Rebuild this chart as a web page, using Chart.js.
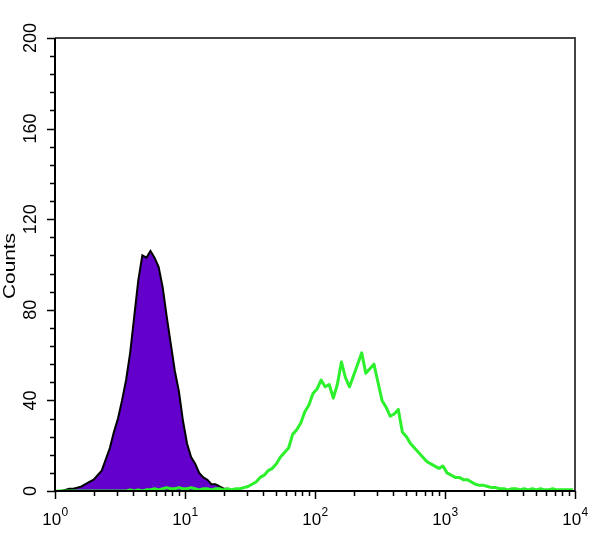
<!DOCTYPE html>
<html>
<head>
<meta charset="utf-8">
<script src="https://cdn.jsdelivr.net/npm/chart.js@4"></script>
<style>
  body { margin: 0; background: #fff; }
  #wrap { width: 600px; height: 533px; }
</style>
</head>
<body>
<div id="wrap"><canvas id="chartFlow" width="600" height="533"></canvas></div>
<script>
// histogram channels: 32 bins per decade, 10^0 .. 10^4
const BINS_PER_DECADE = 32;

// isotype control (purple, filled)
const controlCounts = [
  0, 0, 0.5, 1, 1, 1.5, 2, 3, 4, 5, 7, 9, 14, 19, 26, 32,
  40, 49, 61, 77, 93, 104, 103, 106, 103, 99, 90, 77, 65, 53, 44, 31,
  21, 15, 12, 8, 6, 5, 3, 3, 2, 1, 1, 0.5, 0, 0, 0, 0,
  0, 0, 0, 0, 0, 0, 0, 0, 0, 0, 0, 0, 0, 0, 0, 0,
  0, 0, 0, 0, 0, 0, 0, 0, 0, 0, 0, 0, 0, 0, 0, 0,
  0, 0, 0, 0, 0, 0, 0, 0, 0, 0, 0, 0, 0, 0, 0, 0,
  0, 0, 0, 0, 0, 0, 0, 0, 0, 0, 0, 0, 0, 0, 0, 0,
  0, 0, 0, 0, 0, 0, 0, 0, 0, 0, 0, 0, 0, 0, 0, 0
];

// stained sample (green line)
const sampleCounts = [
  0, 0, 0, 0, 0, 0, 0, 0, 0, 0, 0, 0, 0, 0, 0, 0,
  0, 0, 0.5, 0, 0.5, 0, 0.5, 0.5, 1, 0.5, 1, 1.5, 1, 1, 1.5, 1,
  1, 1.5, 1, 0.5, 1, 1, 0.5, 1, 1, 0.5, 1, 0.5, 1, 1, 1.5, 2,
  3, 4, 6, 7, 9, 10, 12, 15, 17, 19, 25, 27, 30, 35, 38, 43,
  45, 49, 46, 47, 41, 47, 57, 50, 46, 51, 56, 61, 52, 54, 56, 48,
  40, 37, 33, 34, 36, 26, 24, 21, 19, 17, 15, 13, 12, 11, 10, 11,
  8, 7, 6, 6, 5, 5, 4, 3, 2.5, 2.5, 2, 1.5, 1.5, 1, 1, 0.5,
  1, 1, 0.5, 1, 0.5, 1, 0.5, 1, 0.5, 0.5, 1, 0.5, 0.5, 0.5, 0.5, 0.5
];

const yTickLabels = [0, 40, 80, 120, 160, 200];
const xDecades = [0, 1, 2, 3, 4];
const yLabel = "Counts";

const FONT = '"Liberation Sans", Arial, sans-serif';

document.addEventListener("DOMContentLoaded", () => {
  renderHistograma();
});

function toPoints(counts) {
  return counts.map((c, i) => ({ x: 10 ** ((i + 0.5) / BINS_PER_DECADE), y: c }));
}

/* ===========================================
        EJES, TICKS Y ETIQUETAS (plugin)
=========================================== */
const ejesPlugin = {
  id: "ejesFlow",
  afterDatasetsDraw(chart) {
    const { ctx, chartArea: a, scales: { x, y } } = chart;
    ctx.save();

    // marco superior / derecho
    ctx.strokeStyle = "#444";
    ctx.lineWidth = 2;
    ctx.beginPath();
    ctx.moveTo(a.left, a.top);
    ctx.lineTo(a.right, a.top);
    ctx.lineTo(a.right, a.bottom);
    ctx.stroke();

    // ejes principales
    ctx.strokeStyle = "#000";
    ctx.lineWidth = 2;
    ctx.beginPath();
    ctx.moveTo(a.left, a.top);
    ctx.lineTo(a.left, a.bottom);
    ctx.lineTo(a.right, a.bottom);
    ctx.stroke();

    // ticks eje Y (menores cada 8)
    ctx.lineWidth = 1.5;
    ctx.beginPath();
    for (let v = 0; v <= 200; v += 8) {
      const py = Math.round(y.getPixelForValue(v)) + 0.5;
      const len = v % 40 === 0 ? 8 : 5;
      ctx.moveTo(a.left - len, py);
      ctx.lineTo(a.left, py);
    }
    // ticks eje X (log)
    xDecades.forEach(d => {
      const mults = d === 4 ? [1] : [1, 2, 3, 4, 5, 6, 7, 8, 9];
      mults.forEach(m => {
        const px = Math.round(x.getPixelForValue(m * 10 ** d)) + 0.5;
        const len = m === 1 ? 8 : 5;
        ctx.moveTo(px, a.bottom);
        ctx.lineTo(px, a.bottom + len);
      });
    });
    ctx.stroke();

    // etiquetas Y (rotadas)
    ctx.fillStyle = "#000";
    ctx.font = `18px ${FONT}`;
    ctx.textAlign = "center";
    ctx.textBaseline = "middle";
    yTickLabels.forEach(v => {
      ctx.save();
      ctx.translate(31, y.getPixelForValue(v));
      ctx.rotate(-Math.PI / 2);
      ctx.fillText(String(v), 0, 0);
      ctx.restore();
    });

    // titulo Y
    ctx.save();
    ctx.font = `17px ${FONT}`;
    ctx.translate(10, 266);
    ctx.rotate(-Math.PI / 2);
    const w = ctx.measureText(yLabel).width;
    ctx.scale(66 / w, 1);
    ctx.fillText(yLabel, 0, 0);
    ctx.restore();

    // etiquetas X: 10^d
    ctx.textAlign = "left";
    ctx.textBaseline = "alphabetic";
    xDecades.forEach(d => {
      const px = x.getPixelForValue(10 ** d);
      ctx.font = `17px ${FONT}`;
      const wBase = ctx.measureText("10").width;
      ctx.font = `12px ${FONT}`;
      const wExp = ctx.measureText(String(d)).width;
      const x0 = px - (wBase + wExp) / 2;
      ctx.font = `17px ${FONT}`;
      ctx.fillText("10", x0, 525);
      ctx.font = `12px ${FONT}`;
      ctx.fillText(String(d), x0 + wBase + 0.5, 516);
    });

    ctx.restore();
  }
};

/* ===========================================
              HISTOGRAMA (Chart.js)
=========================================== */
function renderHistograma() {
  const ctx = document.getElementById("chartFlow");

  new Chart(ctx, {
    type: "line",
    data: {
      datasets: [
        {
          label: "Muestra",
          data: toPoints(sampleCounts),
          borderColor: "#2bf02b",
          borderWidth: 3,
          borderJoinStyle: "round",
          tension: 0,
          pointRadius: 0,
          fill: false,
          order: 0
        },
        {
          label: "Control",
          data: toPoints(controlCounts),
          borderColor: "#000",
          borderWidth: 2,
          backgroundColor: "#6300cc",
          tension: 0,
          pointRadius: 0,
          fill: "origin",
          order: 1
        }
      ]
    },
    options: {
      responsive: false,
      animation: false,
      layout: { padding: { left: 55, right: 25, top: 38, bottom: 42 } },
      plugins: { legend: { display: false }, tooltip: { enabled: false } },
      scales: {
        x: { type: "logarithmic", min: 1, max: 10000, display: false },
        y: { type: "linear", min: 0, max: 200, display: false }
      }
    },
    plugins: [ejesPlugin]
  });
}
</script>
</body>
</html>
